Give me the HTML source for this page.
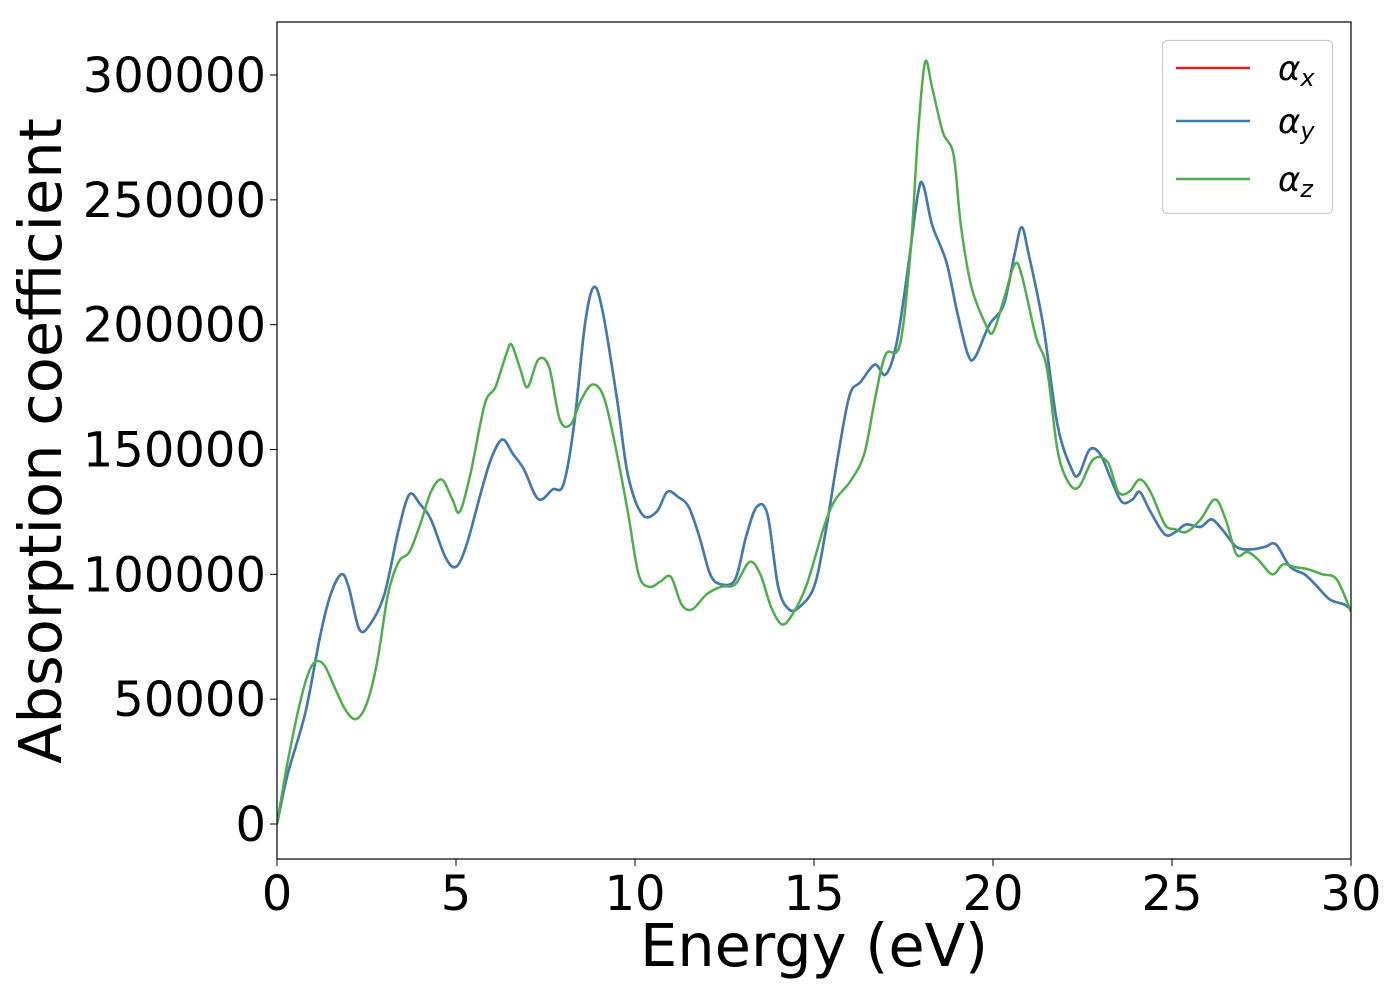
<!DOCTYPE html>
<html><head><meta charset="utf-8"><style>
html,body{margin:0;padding:0;background:#fff;}
svg{display:block;font-family:"DejaVu Sans","Liberation Sans",sans-serif;}
</style></head><body>
<svg id="chart" width="1400" height="1000" viewBox="0 0 1400 1000">
<rect x="0" y="0" width="1400" height="1000" fill="#fff"/>
<g id="series"></g>
<rect x="277" y="22" width="1074" height="837" fill="none" stroke="#000" stroke-width="1.2"/>
<g id="xticks"></g>
<g id="yticks"></g>
<text x="814" y="966" font-size="59" text-anchor="middle">Energy (eV)</text>
<text transform="translate(61,441) rotate(-90)" font-size="59" text-anchor="middle">Absorption coefficient</text>
<g>
<rect x="1162.5" y="40.5" width="170" height="173" rx="5" fill="#fff" stroke="#ccc" stroke-width="1.2"/>
<g><line x1="1176" y1="68" x2="1250" y2="68" stroke="#e41a1c" stroke-width="2.5"/><text x="1278" y="80" font-size="34" font-style="italic">α<tspan font-size="24" dy="6">x</tspan></text></g>
<g><line x1="1176" y1="121" x2="1250" y2="121" stroke="#377eb8" stroke-width="2.5"/><text x="1278" y="133" font-size="34" font-style="italic">α<tspan font-size="24" dy="6">y</tspan></text></g>
<g><line x1="1176" y1="179" x2="1250" y2="179" stroke="#4daf4a" stroke-width="2.5"/><text x="1278" y="191" font-size="34" font-style="italic">α<tspan font-size="24" dy="6">z</tspan></text></g>
</g>
</svg>
<script>
const energyXY=[0,0.3,0.8,1.2,1.5,1.8,2.0,2.3,2.6,3.0,3.4,3.7,4.0,4.3,4.7,5.0,5.3,5.7,6.0,6.3,6.6,6.9,7.2,7.4,7.7,8.0,8.3,8.6,8.85,9.1,9.5,9.8,10.2,10.6,10.9,11.2,11.5,11.8,12.1,12.4,12.8,13.1,13.4,13.7,14.0,14.3,14.6,15.0,15.3,15.7,16.0,16.3,16.7,17.0,17.3,17.6,17.9,18.05,18.3,18.7,19.0,19.3,19.5,19.9,20.3,20.6,20.8,21.0,21.4,21.8,22.2,22.4,22.7,23.0,23.3,23.6,23.9,24.1,24.4,24.8,25.1,25.4,25.8,26.1,26.4,26.8,27.2,27.6,27.9,28.3,28.7,29.0,29.4,29.8,30];
const alphaX=[0,20000,45000,75000,92000,100000,95000,78000,80000,92000,118000,132000,128000,122000,107000,103000,112000,133000,147000,154000,148000,142000,132000,130000,134000,136000,160000,200000,215000,205000,170000,140000,124000,125000,133000,131000,127000,115000,100000,96000,98000,115000,127000,124000,95000,86000,87000,95000,115000,150000,172000,177000,184000,180000,192000,220000,252000,256000,240000,225000,205000,188000,187000,200000,208000,228000,239000,228000,200000,160000,142000,140000,150000,148000,138000,129000,130000,133000,125000,116000,117000,120000,119000,122000,118000,111000,110000,111000,112000,103000,100000,96000,90000,88000,86000];
const alphaY=[0,20000,45000,75000,92000,100000,95000,78000,80000,92000,118000,132000,128000,122000,107000,103000,112000,133000,147000,154000,148000,142000,132000,130000,134000,136000,160000,200000,215000,205000,170000,140000,124000,125000,133000,131000,127000,115000,100000,96000,98000,115000,127000,124000,95000,86000,87000,95000,115000,150000,172000,177000,184000,180000,192000,220000,252000,256000,240000,225000,205000,188000,187000,200000,208000,228000,239000,228000,200000,160000,142000,140000,150000,148000,138000,129000,130000,133000,125000,116000,117000,120000,119000,122000,118000,111000,110000,111000,112000,103000,100000,96000,90000,88000,86000];
const energyZ=[0,0.3,0.7,1.0,1.3,1.6,1.9,2.2,2.5,2.8,3.1,3.4,3.7,4.0,4.3,4.6,4.9,5.1,5.4,5.8,6.1,6.4,6.55,6.8,7.0,7.3,7.6,7.9,8.2,8.5,8.8,9.1,9.4,9.8,10.1,10.4,10.7,11.0,11.3,11.6,12.0,12.4,12.8,13.2,13.5,13.8,14.1,14.4,14.8,15.3,15.6,16.0,16.4,16.7,17.0,17.4,17.7,17.9,18.1,18.3,18.6,18.9,19.1,19.4,19.8,20.0,20.3,20.6,20.8,21.2,21.5,21.8,22.1,22.4,22.8,23.2,23.5,23.8,24.1,24.4,24.8,25.1,25.4,25.8,26.2,26.5,26.8,27.1,27.4,27.8,28.1,28.4,28.8,29.2,29.6,30];
const alphaZ=[0,25000,52000,64000,64000,55000,46000,42000,48000,65000,92000,105000,109000,120000,133000,138000,130000,125000,140000,168000,175000,188000,192000,182000,175000,186000,183000,162000,160000,170000,176000,172000,155000,125000,100000,95000,97000,99000,88000,86000,92000,95000,96000,105000,100000,87000,80000,84000,96000,120000,130000,137000,148000,170000,188000,192000,230000,275000,305000,295000,277000,268000,240000,215000,200000,197000,210000,224000,220000,195000,183000,150000,137000,135000,146000,145000,133000,133000,138000,133000,120000,118000,117000,122000,130000,122000,108000,109000,106000,100000,104000,103000,102000,100000,98000,85000];
const xTicks=[0,5,10,15,20,25,30];
const yTicks=[0,50000,100000,150000,200000,250000,300000];

const NS='http://www.w3.org/2000/svg';
const X0=277,X1=1351,XMIN=0,XMAX=30;
const Y0=824,Y1=75,YMIN=0,YMAX=300000;
function sx(v){return X0+(v-XMIN)/(XMAX-XMIN)*(X1-X0);}
function sy(v){return Y0+(v-YMIN)/(YMAX-YMIN)*(Y1-Y0);}
function pathFor(xs,ys){
  const p=xs.map((x,i)=>[sx(x),sy(ys[i])]);
  let d='M'+p[0][0].toFixed(1)+','+p[0][1].toFixed(1);
  for(let i=0;i<p.length-1;i++){
    const a=p[Math.max(0,i-1)],b=p[i],c=p[i+1],e=p[Math.min(p.length-1,i+2)];
    const c1=[b[0]+(c[0]-a[0])/6,b[1]+(c[1]-a[1])/6];
    const c2=[c[0]-(e[0]-b[0])/6,c[1]-(e[1]-b[1])/6];
    d+=' C'+c1[0].toFixed(1)+','+c1[1].toFixed(1)+' '+c2[0].toFixed(1)+','+c2[1].toFixed(1)+' '+c[0].toFixed(1)+','+c[1].toFixed(1);
  }
  return d;
}
const sg=document.getElementById('series');
const clip=document.createElementNS(NS,'clipPath');clip.setAttribute('id','pc');
const cr=document.createElementNS(NS,'rect');cr.setAttribute('x',X0);cr.setAttribute('y',22);cr.setAttribute('width',X1-X0);cr.setAttribute('height',837);
clip.appendChild(cr);sg.appendChild(clip);
function addLine(xs,ys,color,name){
  const p=document.createElementNS(NS,'path');
  p.setAttribute('d',pathFor(xs,ys));p.setAttribute('fill','none');p.setAttribute('stroke',color);
  p.setAttribute('stroke-width','2.5');p.setAttribute('clip-path','url(#pc)');
  
  
  sg.appendChild(p);
}
addLine(energyXY,alphaX,'#e41a1c','series-alpha-x');
addLine(energyXY,alphaY,'#377eb8','series-alpha-y');
addLine(energyZ,alphaZ,'#4daf4a','series-alpha-z');

const xg=document.getElementById('xticks');
xTicks.forEach(t=>{
  const l=document.createElementNS(NS,'line');
  l.setAttribute('x1',sx(t));l.setAttribute('x2',sx(t));l.setAttribute('y1',859);l.setAttribute('y2',866);l.setAttribute('stroke','#000');
  
  
  xg.appendChild(l);
  const tx=document.createElementNS(NS,'text');
  tx.setAttribute('x',sx(t));tx.setAttribute('y',910);tx.setAttribute('font-size','48');tx.setAttribute('text-anchor','middle');
  tx.textContent=t;
  
  
  xg.appendChild(tx);
});
const yg=document.getElementById('yticks');
yTicks.forEach(t=>{
  const l=document.createElementNS(NS,'line');
  l.setAttribute('x1',270);l.setAttribute('x2',277);l.setAttribute('y1',sy(t));l.setAttribute('y2',sy(t));l.setAttribute('stroke','#000');
  
  
  yg.appendChild(l);
  const tx=document.createElementNS(NS,'text');
  tx.setAttribute('x',266);tx.setAttribute('y',sy(t)+17);tx.setAttribute('font-size','48');tx.setAttribute('text-anchor','end');
  tx.textContent=t;
  
  
  yg.appendChild(tx);
});
</script>
</body></html>
